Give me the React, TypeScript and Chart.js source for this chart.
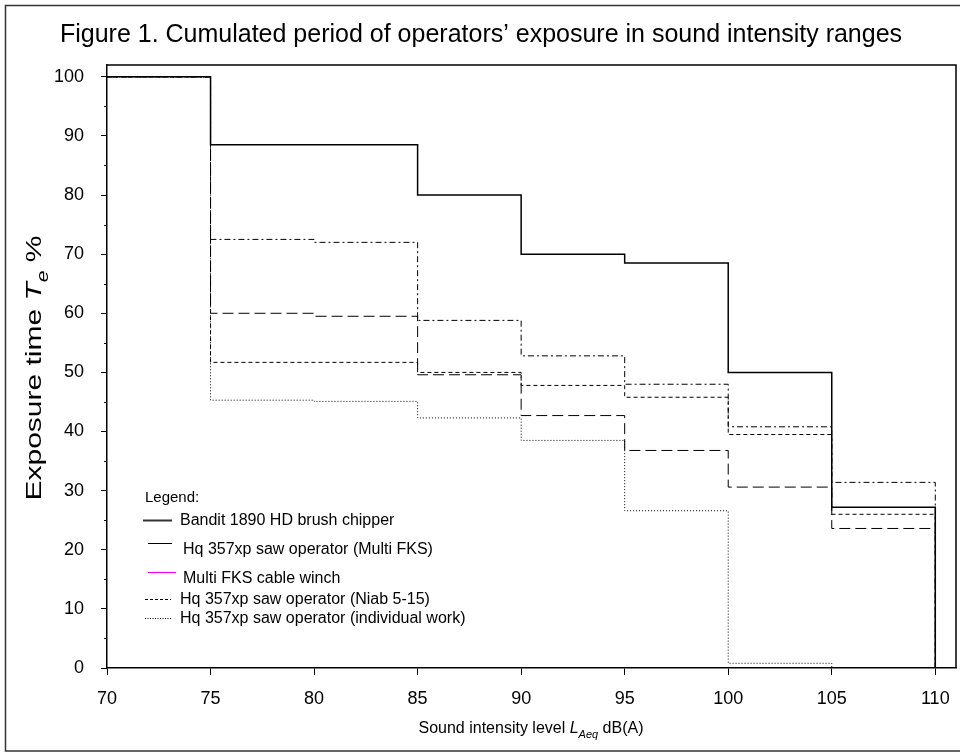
import React, { useEffect, useRef } from 'react';
import { Chart, registerables } from 'chart.js';

Chart.register(...registerables);

// ---- data ----
const soundLevels = [70, 75, 80, 85, 90, 95, 100, 105, 110];
const banditChipper = [100, 88.5, 88.5, 80, 70, 68.5, 50, 27.2, 0];
const sawMultiFks = [100, 72.5, 72.0, 58.8, 52.8, 48.0, 40.8, 31.4, 0];
const cableWinch = [100, 60.0, 59.5, 49.6, 42.7, 36.8, 30.6, 23.6, 0];
const sawNiab = [100, 51.7, 51.7, 50.0, 47.8, 45.8, 39.5, 26.0, 0];
const sawIndividual = [100, 45.3, 45.1, 42.3, 38.5, 26.6, 0.8, 0, 0];

const legendLabels = [
  'Bandit 1890 HD brush chipper',
  'Hq 357xp saw operator (Multi FKS)',
  'Multi FKS cable winch',
  'Hq 357xp saw operator (Niab 5-15)',
  'Hq 357xp saw operator (individual work)',
];
const titleText = 'Figure 1. Cumulated period of operators\u2019 exposure in sound intensity ranges';

const FONT = "'Liberation Sans', Arial, Helvetica, sans-serif";

const toPoints = (vals: number[]) => soundLevels.map((x, i) => ({ x, y: vals[i] }));

const decorPlugin = {
  id: 'decor',
  afterDraw(chart: any) {
    const ctx = chart.ctx as CanvasRenderingContext2D;
    const { left, right, top, bottom } = chart.chartArea;
    const ys = chart.scales.y;
    ctx.save();
    // outer frame
    ctx.strokeStyle = '#333';
    ctx.lineWidth = 1.5;
    ctx.beginPath();
    ctx.moveTo(962, 5.5);
    ctx.lineTo(5.5, 5.5);
    ctx.lineTo(5.5, 751);
    ctx.lineTo(962, 751);
    ctx.stroke();
    // plot box top/right
    ctx.strokeStyle = '#000';
    ctx.lineWidth = 1.5;
    ctx.beginPath();
    ctx.moveTo(left, top);
    ctx.lineTo(right, top);
    ctx.lineTo(right, bottom);
    ctx.stroke();
    // minor y ticks
    ctx.lineWidth = 1;
    ctx.beginPath();
    for (let v = 5; v < 100; v += 10) {
      const py = Math.round(ys.getPixelForValue(v)) + 0.5;
      ctx.moveTo(left - 3, py);
      ctx.lineTo(left, py);
    }
    ctx.stroke();

    // title
    ctx.fillStyle = '#000';
    ctx.font = `25px ${FONT}`;
    ctx.textAlign = 'center';
    ctx.textBaseline = 'middle';
    ctx.fillText(titleText, 481, 35);

    const drawRich = (parts: { t: string; italic?: boolean; sub?: boolean }[], size: number) => {
      const fontFor = (p: any) => `${p.italic ? 'italic ' : ''}${p.sub ? Math.round(size * 0.7) : size}px ${FONT}`;
      let total = 0;
      for (const p of parts) {
        ctx.font = fontFor(p);
        total += ctx.measureText(p.t).width;
      }
      let x = -total / 2;
      ctx.textAlign = 'left';
      ctx.textBaseline = 'alphabetic';
      for (const p of parts) {
        ctx.font = fontFor(p);
        ctx.fillText(p.t, x, p.sub ? size * 0.3 : 0);
        x += ctx.measureText(p.t).width;
      }
    };
    // x axis title
    ctx.save();
    ctx.translate(531, 733);
    drawRich(
      [
        { t: 'Sound intensity level ' },
        { t: 'L', italic: true },
        { t: 'Aeq', italic: true, sub: true },
        { t: ' dB(A)' },
      ],
      16
    );
    ctx.restore();

    // y axis title
    ctx.save();
    ctx.translate(41, 368);
    ctx.scale(0.75, 1);
    ctx.rotate(-Math.PI / 2);
    drawRich(
      [{ t: 'Exposure time ' }, { t: 'T', italic: true }, { t: 'e', italic: true, sub: true }, { t: ' %' }],
      30
    );
    ctx.restore();

    // legend
    ctx.font = `15px ${FONT}`;
    ctx.textAlign = 'left';
    ctx.textBaseline = 'middle';
    ctx.fillStyle = '#000';
    ctx.fillText('Legend:', 145, 498);
    const entries = [
      { y1: 520, ty: 521, x0: 143, x1: 172, tx: 180, color: '#333', w: 2, dash: [] as number[] },
      { y1: 543, ty: 550, x0: 148, x1: 172, tx: 183, color: '#000', w: 1, dash: [] },
      { y1: 572, ty: 579, x0: 148, x1: 176, tx: 183, color: '#ff00ff', w: 1.2, dash: [] },
      { y1: 599, ty: 600, x0: 145, x1: 171, tx: 180, color: '#000', w: 1, dash: [3, 2] },
      { y1: 618, ty: 619, x0: 145, x1: 171, tx: 180, color: '#000', w: 1, dash: [1, 1.5] },
    ];
    entries.forEach((e, i) => {
      ctx.strokeStyle = e.color;
      ctx.lineWidth = e.w;
      ctx.setLineDash(e.dash);
      ctx.beginPath();
      ctx.moveTo(e.x0, e.y1 + 0.5);
      ctx.lineTo(e.x1, e.y1 + 0.5);
      ctx.stroke();
      ctx.setLineDash([]);
      ctx.font = `16px ${FONT}`;
      ctx.fillText(legendLabels[i], e.tx, e.ty);
    });
    ctx.restore();
  },
};

export default function App() {
  const ref = useRef<HTMLCanvasElement | null>(null);
  useEffect(() => {
    document.body.style.margin = '0';
    const canvas = ref.current!;
    const mk = (label: string, vals: number[], dash: number[], width: number) => ({
      label,
      data: toPoints(vals),
      stepped: true as const,
      borderColor: '#000',
      borderWidth: width,
      borderDash: dash,
      pointRadius: 0,
      fill: false,
    });
    const chart = new Chart(canvas, {
      type: 'line',
      data: {
        datasets: [
          mk(legendLabels[0], banditChipper, [], 1.5),
          mk(legendLabels[1], sawMultiFks, [6, 3, 2, 3], 1),
          mk(legendLabels[2], cableWinch, [11, 5], 1),
          mk(legendLabels[3], sawNiab, [4, 3], 1),
          mk(legendLabels[4], sawIndividual, [1, 2], 1),
        ],
      },
      options: {
        animation: false,
        responsive: false,
        devicePixelRatio: 1,
        layout: { padding: { left: 0, top: 65, right: 4, bottom: 0 } },
        plugins: { legend: { display: false }, tooltip: { enabled: false }, title: { display: false } },
        scales: {
          x: {
            type: 'linear',
            min: 70,
            max: 111,
            afterFit: (s: any) => {
              s.height = 87;
              s.paddingLeft = 0;
              s.paddingRight = 0;
            },
            ticks: {
              stepSize: 5,
              includeBounds: false,
              color: '#000',
              font: { family: FONT, size: 18 },
              padding: 13,
              maxRotation: 0,
            },
            grid: { display: true, drawOnChartArea: false, drawTicks: true, tickLength: 7, color: '#000' },
            border: { display: true, color: '#000', width: 1.5 },
          },
          y: {
            type: 'linear',
            min: 0,
            max: 102,
            afterFit: (s: any) => {
              s.width = 107;
              s.paddingTop = 0;
              s.paddingBottom = 0;
            },
            ticks: {
              stepSize: 10,
              includeBounds: false,
              color: '#000',
              font: { family: FONT, size: 18 },
              padding: 17,
            },
            grid: { display: true, drawOnChartArea: false, drawTicks: true, tickLength: 6, color: '#000' },
            border: { display: true, color: '#000', width: 1.5 },
          },
        },
      },
      plugins: [decorPlugin],
    });
    return () => chart.destroy();
  }, []);
  return (
    <div style={{ position: 'absolute', left: 0, top: 0, width: 960, height: 755, background: '#fff' }}>
      <canvas ref={ref} width={960} height={755} style={{ display: 'block' }} />
    </div>
  );
}
